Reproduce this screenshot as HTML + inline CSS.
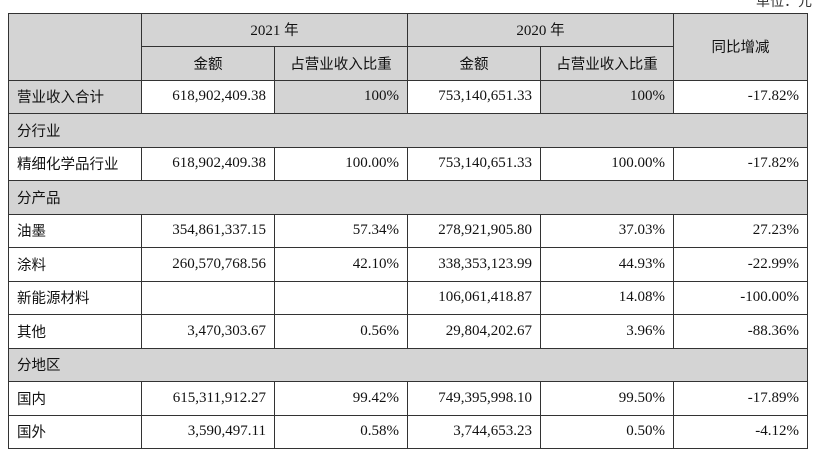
<!DOCTYPE html>
<html><head><meta charset="utf-8">
<style>
body{margin:0;width:816px;height:458px;background:#fff;position:relative;overflow:hidden;font-family:"Liberation Serif","Noto Sans CJK SC",serif;color:#111}
.unit{position:absolute;right:4px;top:-9px;font-size:14px;font-family:"Liberation Serif","Noto Sans CJK SC",sans-serif;color:#333}
table{position:absolute;left:8px;top:12.5px;border-collapse:collapse;table-layout:fixed;width:799px}
tr{height:33.5px}
td{border:1.5px solid #333;height:33.5px;padding:0 8px;font-size:15px;box-sizing:border-box;white-space:nowrap}
.g{background:#d4d4d4}
.c{text-align:center}
.r{text-align:right}
.zh{font-family:"Liberation Sans","Noto Sans CJK SC",sans-serif;font-size:14.5px}
</style></head><body>
<div class="unit">单位：元</div>
<table>
<colgroup><col style="width:133px"><col style="width:133px"><col style="width:133px"><col style="width:133px"><col style="width:133px"><col style="width:134px"></colgroup>
<tr><td class="g" rowspan="2"></td><td class="g c" colspan="2">2021 <span class="zh">年</span></td><td class="g c" colspan="2">2020 <span class="zh">年</span></td><td class="g c zh" rowspan="2">同比增减</td></tr>
<tr><td class="g c zh">金额</td><td class="g c zh">占营业收入比重</td><td class="g c zh">金额</td><td class="g c zh">占营业收入比重</td></tr>
<tr><td class="g zh">营业收入合计</td><td class="r">618,902,409.38</td><td class="g r">100%</td><td class="r">753,140,651.33</td><td class="g r">100%</td><td class="r">-17.82%</td></tr>
<tr><td class="g zh" colspan="6">分行业</td></tr>
<tr><td class="zh">精细化学品行业</td><td class="r">618,902,409.38</td><td class="r">100.00%</td><td class="r">753,140,651.33</td><td class="r">100.00%</td><td class="r">-17.82%</td></tr>
<tr><td class="g zh" colspan="6">分产品</td></tr>
<tr><td class="zh">油墨</td><td class="r">354,861,337.15</td><td class="r">57.34%</td><td class="r">278,921,905.80</td><td class="r">37.03%</td><td class="r">27.23%</td></tr>
<tr><td class="zh">涂料</td><td class="r">260,570,768.56</td><td class="r">42.10%</td><td class="r">338,353,123.99</td><td class="r">44.93%</td><td class="r">-22.99%</td></tr>
<tr><td class="zh">新能源材料</td><td class="r"></td><td class="r"></td><td class="r">106,061,418.87</td><td class="r">14.08%</td><td class="r">-100.00%</td></tr>
<tr><td class="zh">其他</td><td class="r">3,470,303.67</td><td class="r">0.56%</td><td class="r">29,804,202.67</td><td class="r">3.96%</td><td class="r">-88.36%</td></tr>
<tr><td class="g zh" colspan="6">分地区</td></tr>
<tr><td class="zh">国内</td><td class="r">615,311,912.27</td><td class="r">99.42%</td><td class="r">749,395,998.10</td><td class="r">99.50%</td><td class="r">-17.89%</td></tr>
<tr><td class="zh">国外</td><td class="r">3,590,497.11</td><td class="r">0.58%</td><td class="r">3,744,653.23</td><td class="r">0.50%</td><td class="r">-4.12%</td></tr>
</table>
</body></html>
